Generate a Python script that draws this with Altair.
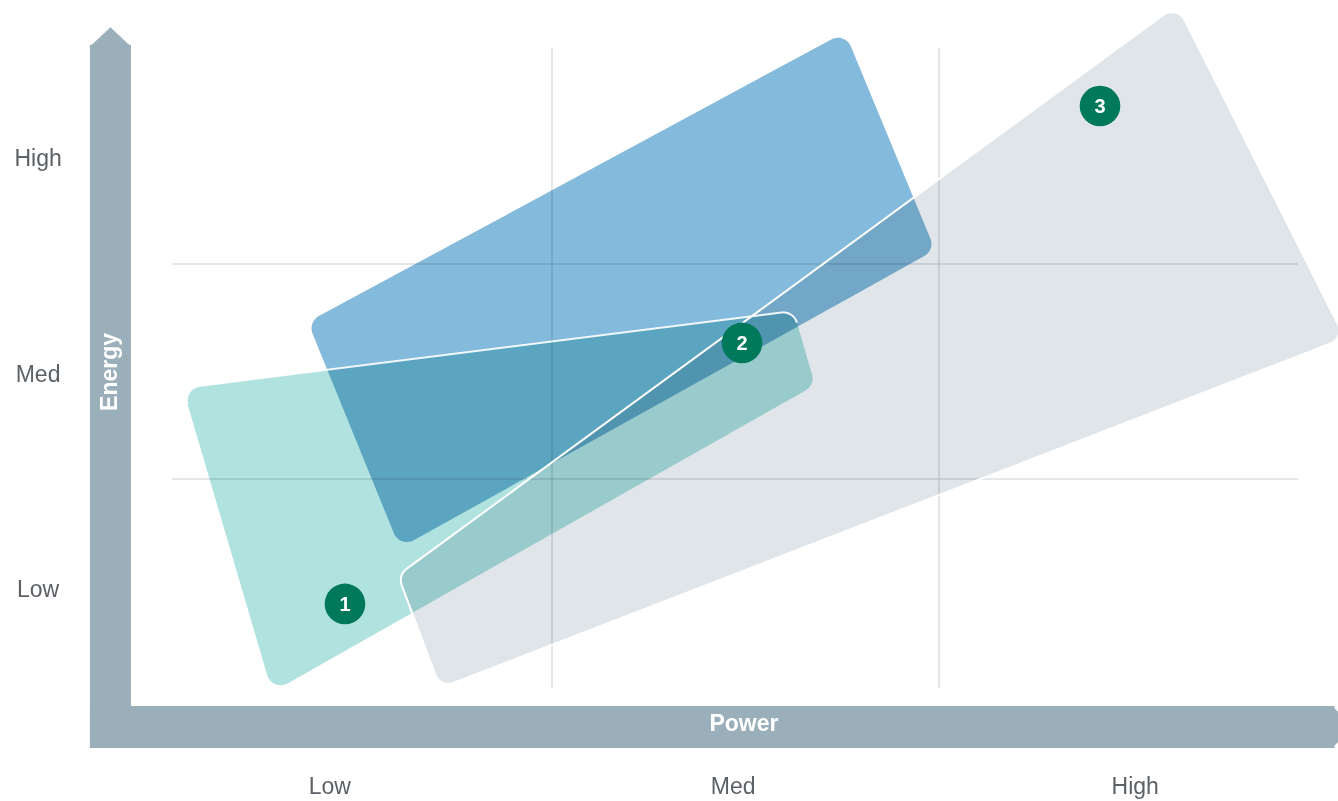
import altair as alt
import numpy as np
import pandas as pd

# ---------------- data (x = Power, y = Energy; 1 = Low, 2 = Med, 3 = High) ----------------
X_DOMAIN = [0.0736, 3.531]
Y_DOMAIN = [0.0023, 3.728]
W, H = 1338, 801

level_names = ["Low", "Med", "High"]
x_label_pos = [0.926, 1.968, 3.007]
x_label_row = 0.067
y_label_pos = [0.984, 1.984, 2.988]
y_label_col = 0.172

grid_x = [1.5, 2.5]
grid_y = [1.5, 2.5]
grid_x_span = [0.528, 3.505]   # energy extent of the vertical grid lines
grid_y_span = [0.518, 3.428]   # power extent of the horizontal grid lines

# zone corner points (before rounding)
zone1_x = [0.546, 2.124, 2.180, 0.777]
zone1_y = [1.923, 2.281, 1.937, 0.509]
zone2_x = [0.869, 2.257, 2.490, 1.107]
zone2_y = [2.230, 3.579, 2.565, 1.179]
zone3_x = [1.102, 3.115, 3.549, 1.211]
zone3_y = [1.053, 3.705, 2.156, 0.528]

marker_ids = ["1", "2", "3"]
marker_x = [0.965, 1.991, 2.916]
marker_y = [0.919, 2.133, 3.235]

# axis arrows
v_bar_x = [0.306, 0.412]
v_bar_y = [0.249, 3.520]
v_head_x = [0.306, 0.359, 0.412]
v_head_y = [3.510, 3.600, 3.510]
h_bar_x = [0.306, 3.522]
h_bar_y = [0.249, 0.444]
h_head_x = [3.515, 3.570]
h_head_top = [0.444, 0.3465]
h_head_bot = [0.249, 0.3465]

axis_title_power = ("Power", 1.996, 0.360)
axis_title_energy = ("Energy", 0.359, 1.998)

TEAL = "#b0e2e0"
BLUE = "#84badb"
GREY = "#dfe5e9"
BAR = "#9aafba"
GREEN = "#00795a"
GRID = "#c9ced1"
LABEL = "#5c6166"
FONT = "Liberation Sans, Arial, Helvetica, sans-serif"

# ---------------- geometry helpers ----------------
SX = W / (X_DOMAIN[1] - X_DOMAIN[0])
SY = H / (Y_DOMAIN[1] - Y_DOMAIN[0])


def rounded_corners(xs, ys, r_px, steps=12):
    P = np.column_stack([np.array(xs) * SX, np.array(ys) * SY])
    n = len(P)
    corners = []
    for i in range(n):
        p, a, b = P[i], P[i - 1], P[(i + 1) % n]
        u1 = (a - p) / np.linalg.norm(a - p)
        u2 = (b - p) / np.linalg.norm(b - p)
        theta = np.arccos(np.clip(np.dot(u1, u2), -1, 1))
        t = r_px / np.tan(theta / 2)
        t1, t2 = p + u1 * t, p + u2 * t
        bis = (u1 + u2) / np.linalg.norm(u1 + u2)
        c = p + bis * r_px / np.sin(theta / 2)
        a1 = np.arctan2(t1[1] - c[1], t1[0] - c[0])
        a2 = np.arctan2(t2[1] - c[1], t2[0] - c[0])
        d = (a2 - a1 + np.pi) % (2 * np.pi) - np.pi
        ang = a1 + d * np.linspace(0, 1, steps)
        pts = c + r_px * np.column_stack([np.cos(ang), np.sin(ang)])
        corners.append(np.column_stack([pts[:, 0] / SX, pts[:, 1] / SY]))
    return corners


def envelope(pts):
    n = len(pts)
    i0, i1 = int(np.argmin(pts[:, 0])), int(np.argmax(pts[:, 0]))

    def chain(a, b):
        idx = [a]
        k = a
        while k != b:
            k = (k + 1) % n
            idx.append(k)
        return pts[idx]

    c1 = chain(i0, i1)
    c2 = chain(i1, i0)[::-1]
    c1 = c1[np.argsort(c1[:, 0], kind="stable")]
    c2 = c2[np.argsort(c2[:, 0], kind="stable")]
    xs = np.unique(pts[:, 0])
    ya = np.interp(xs, c1[:, 0], c1[:, 1])
    yb = np.interp(xs, c2[:, 0], c2[:, 1])
    return pd.DataFrame({"x": xs, "y": np.maximum(ya, yb), "y2": np.minimum(ya, yb)})


def xq(f="x"):
    return alt.X(f"{f}:Q", scale=alt.Scale(domain=X_DOMAIN, nice=False, zero=False), axis=None)


def yq(f="y"):
    return alt.Y(f"{f}:Q", scale=alt.Scale(domain=Y_DOMAIN, nice=False, zero=False), axis=None)


def zone_area(xs, ys, color, r_px=14):
    corners = rounded_corners(xs, ys, r_px)
    pts = np.vstack(corners)
    df = envelope(pts)
    return alt.Chart(df).mark_area(color=color, opacity=1, blend="multiply", interpolate="linear").encode(
        x=xq(), y=yq(), y2=alt.Y2("y2:Q"))


def outline(corner_list, closed=False, width=2, opacity=1.0):
    pts = np.vstack(corner_list)
    if closed:
        pts = np.vstack([pts, pts[:1]])
    df = pd.DataFrame({"x": pts[:, 0], "y": pts[:, 1], "i": np.arange(len(pts))})
    return alt.Chart(df).mark_line(color="white", strokeWidth=width, opacity=opacity).encode(
        x=xq(), y=yq(), order="i:Q")


# ---------------- layers ----------------
vgrid = alt.Chart(pd.DataFrame({"x": grid_x, "y": [grid_x_span[0]] * 2, "y2": [grid_x_span[1]] * 2})).mark_rule(
    color=GRID, strokeWidth=1).encode(x=xq(), y=yq(), y2=alt.Y2("y2:Q"))
hgrid = alt.Chart(pd.DataFrame({"y": grid_y, "x": [grid_y_span[0]] * 2, "x2": [grid_y_span[1]] * 2})).mark_rule(
    color=GRID, strokeWidth=1).encode(y=yq(), x=xq(), x2=alt.X2("x2:Q"))

vbar = alt.Chart(pd.DataFrame({"x": [v_bar_x[0]], "x2": [v_bar_x[1]], "y": [v_bar_y[0]], "y2": [v_bar_y[1]]})).mark_rect(
    color=BAR, opacity=1).encode(x=xq(), x2=alt.X2("x2:Q"), y=yq(), y2=alt.Y2("y2:Q"))
vhead = alt.Chart(pd.DataFrame({"x": v_head_x, "y": v_head_y, "y2": [v_head_y[0]] * 3})).mark_area(
    color=BAR, opacity=1, stroke=BAR, strokeWidth=0.5).encode(x=xq(), y=yq(), y2=alt.Y2("y2:Q"))
hbar = alt.Chart(pd.DataFrame({"x": [h_bar_x[0]], "x2": [h_bar_x[1]], "y": [h_bar_y[0]], "y2": [h_bar_y[1]]})).mark_rect(
    color=BAR, opacity=1).encode(x=xq(), x2=alt.X2("x2:Q"), y=yq(), y2=alt.Y2("y2:Q"))
hhead = alt.Chart(pd.DataFrame({"x": h_head_x, "y": h_head_top, "y2": h_head_bot})).mark_area(
    color=BAR, opacity=1, stroke=BAR, strokeWidth=0.5).encode(x=xq(), y=yq(), y2=alt.Y2("y2:Q"))

blue = zone_area(zone2_x, zone2_y, BLUE)
teal = zone_area(zone1_x, zone1_y, TEAL)
grey = zone_area(zone3_x, zone3_y, GREY)

teal_corners = rounded_corners(zone1_x, zone1_y, 14)
grey_corners = rounded_corners(zone3_x, zone3_y, 14)
teal_line = outline(teal_corners[:2], closed=False, width=2, opacity=0.9)
grey_line = outline(grey_corners, closed=True, width=2, opacity=1.0)

markers_df = pd.DataFrame({"x": marker_x, "y": marker_y, "t": marker_ids})
markers = alt.Chart(markers_df).mark_circle(size=1650, color=GREEN, opacity=1).encode(x=xq(), y=yq())
marker_txt = alt.Chart(markers_df).mark_text(color="white", font=FONT, fontSize=20, fontWeight="bold",
                                             baseline="middle", align="center", dy=1).encode(
    x=xq(), y=yq(), text="t:N")

xlab = alt.Chart(pd.DataFrame({"x": x_label_pos, "y": [x_label_row] * 3, "t": level_names})).mark_text(
    color=LABEL, font=FONT, fontSize=23, baseline="middle", align="center").encode(x=xq(), y=yq(), text="t:N")
ylab = alt.Chart(pd.DataFrame({"x": [y_label_col] * 3, "y": y_label_pos, "t": level_names})).mark_text(
    color=LABEL, font=FONT, fontSize=23, baseline="middle", align="center").encode(x=xq(), y=yq(), text="t:N")

ptitle = alt.Chart(pd.DataFrame({"x": [axis_title_power[1]], "y": [axis_title_power[2]], "t": [axis_title_power[0]]})).mark_text(
    color="white", font=FONT, fontSize=23, fontWeight="bold", baseline="middle", align="center").encode(
    x=xq(), y=yq(), text="t:N")
etitle = alt.Chart(pd.DataFrame({"x": [axis_title_energy[1]], "y": [axis_title_energy[2]], "t": [axis_title_energy[0]]})).mark_text(
    color="white", font=FONT, fontSize=23, fontWeight="bold", baseline="middle", align="center", angle=270).encode(
    x=xq(), y=yq(), text="t:N")

chart = alt.layer(
    vgrid, hgrid, vbar, hbar, vhead, hhead,
    blue, teal, grey,
    teal_line, grey_line,
    markers, marker_txt, xlab, ylab, ptitle, etitle,
).properties(
    width=W, height=H, padding=0, background="white",
    autosize=alt.AutoSizeParams(type="none"),
).configure_view(strokeWidth=0)

chart.save("out.html", embed_options={"renderer": "svg", "actions": False})
